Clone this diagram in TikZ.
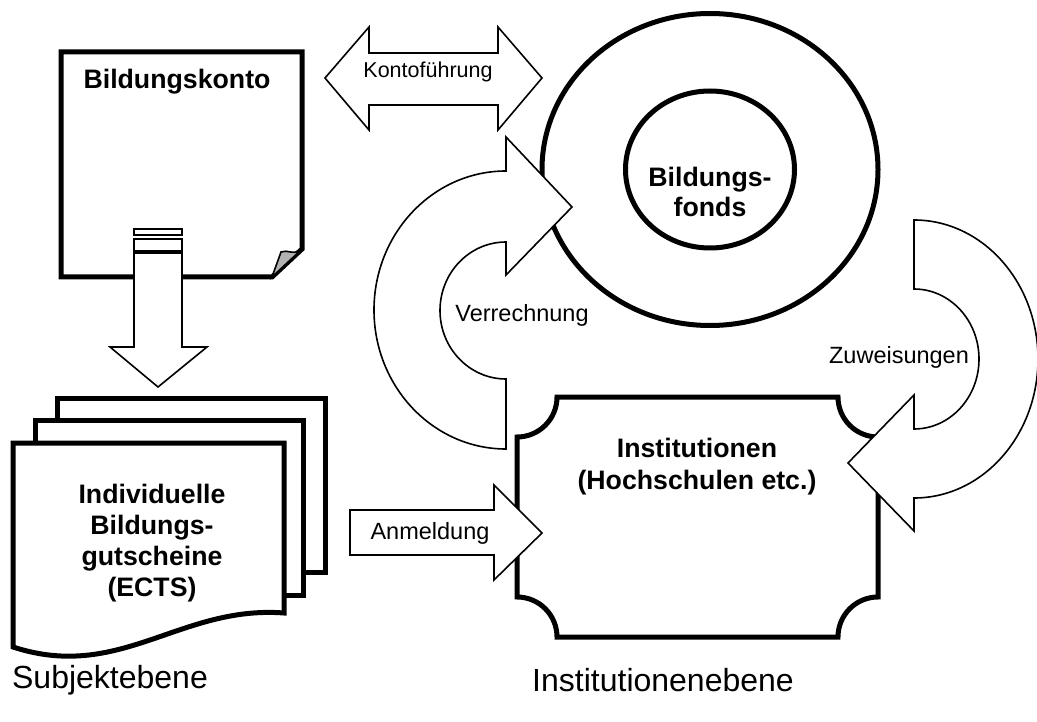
\documentclass[tikz,border=0pt]{standalone}
\usepackage{fontspec}
\setmainfont{Liberation Sans}
\begin{document}
\begin{tikzpicture}[x=1pt,y=1pt,
  thickshape/.style={line width=5pt, draw=black, fill=white, line join=miter},
  thinshape/.style={line width=1.6pt, draw=black, fill=white, line join=miter},
  boldlbl/.style={font=\fontsize{26.7}{31}\selectfont\bfseries, align=center, inner sep=0pt},
  lbl/.style={font=\fontsize{23.5}{27}\selectfont, inner sep=0pt},
  biglbl/.style={font=\fontsize{32}{36}\selectfont, inner sep=0pt}]
\useasboundingbox (0,0) rectangle (1037,-722);
\fill[white] (0,0) rectangle (1037,-722);

% Bildungsfonds circles
\draw[thickshape] (710,-169.5) ellipse[x radius=168, y radius=156];
\draw[thickshape] (710,-169.5) ellipse[x radius=84.5, y radius=78.5];
\node[boldlbl, font=\fontsize{26.7}{30}\selectfont\bfseries] (fonds) at (710,-192) {Bildungs-\\fonds};

% Institutionen plaque
\draw[thickshape] (557,-397) -- (838,-397)
  arc[start angle=180, end angle=270, radius=40] -- (878,-597)
  arc[start angle=90, end angle=180, radius=40] -- (557,-637)
  arc[start angle=0, end angle=90, radius=40] -- (517,-437)
  arc[start angle=270, end angle=360, radius=40] -- cycle;
\node[boldlbl, font=\fontsize{26.7}{32}\selectfont\bfseries] (inst) at (697,-466.5) {Institutionen\\(Hochschulen etc.)};

% Verrechnung circular arrow
\draw[thinshape] (506,-171) arc[start angle=90, end angle=270, x radius=132, y radius=139]
  -- (506,-379) arc[start angle=270, end angle=90, x radius=66, y radius=68.5]
  -- (506,-275) -- (572,-207) -- (506,-137) -- cycle;
\node[lbl] (verr) at (522,-315) {Verrechnung};

% Zuweisungen circular arrow
\draw[thinshape] (914,-220) arc[start angle=90, end angle=-90, x radius=124, y radius=139]
  -- (914,-531) -- (848,-463) -- (914,-395) -- (914,-429)
  arc[start angle=-90, end angle=90, x radius=65, y radius=70] -- cycle;
\node[lbl] (zuw) at (899,-357) {Zuweisungen};

% Kontofuehrung double arrow
\draw[thinshape] (325,-78) -- (369,-27) -- (369,-53) -- (498,-53) -- (498,-27)
  -- (542,-78) -- (498,-130) -- (498,-105) -- (369,-105) -- (369,-130) -- cycle;
\node[lbl, font=\fontsize{21.5}{25}\selectfont] (konto) at (428,-72) {Kontoführung};

% Bildungskonto document with curled corner
\draw[thickshape] (61,-52) -- (302,-52) -- (302,-249) -- (272,-277) -- (61,-277) -- cycle;
\filldraw[line width=1.6pt, fill=black!30, line join=miter] (302,-249)
  .. controls (294,-256) and (287,-249) .. (281,-252) -- (272,-277) -- cycle;
\node[boldlbl] (bk) at (177,-82) {Bildungskonto};

% down arrow with bars
\draw[thinshape] (134,-229) rectangle (182,-235);
\draw[thinshape] (134,-239) rectangle (182,-251);
\draw[thinshape] (134,-253) -- (182,-253) -- (182,-347) -- (207,-347) -- (158,-387)
  -- (110,-347) -- (134,-347) -- cycle;

% multi document
\draw[thickshape] (57,-398) rectangle (325,-572);
\draw[thickshape] (35,-420) rectangle (303,-595);
\draw[thickshape] (13,-443) -- (284,-443) -- (284,-613)
  .. controls (180,-605) and (120,-682) .. (13,-647) -- cycle;
\node[boldlbl] (ects) at (152,-543) {Individuelle\\Bildungs-\\gutscheine\\(ECTS)};

% Anmeldung arrow
\draw[thinshape] (350,-510) -- (494,-510) -- (494,-485) -- (542,-533) -- (494,-580)
  -- (494,-555) -- (350,-555) -- cycle;
\node[lbl] (anm) at (430,-533) {Anmeldung};

% level labels
\node[biglbl] (subj) at (110,-680) {Subjektebene};
\node[biglbl] (instebene) at (663,-680) {Institutionenebene};
\end{tikzpicture}
\end{document}
